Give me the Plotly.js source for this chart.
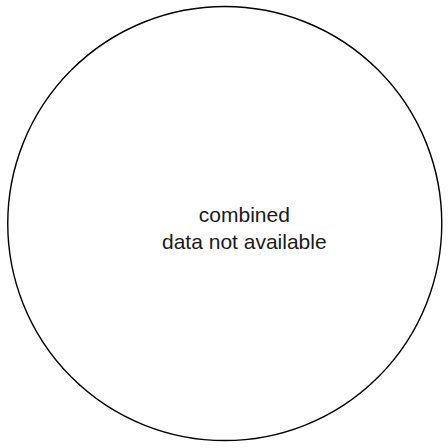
<!DOCTYPE html>
<html>
<head>
<meta charset="utf-8">
<script src="https://cdn.plot.ly/plotly-3.0.1.min.js"></script>
<style>html,body{margin:0;padding:0;background:#fff;}#chart{width:448px;height:448px;}</style>
</head>
<body>
<div id="chart"></div>
<script>
// Placeholder: no data available for the "combined" group
const groupName = 'combined';
const messageText = 'data not available';
const placeholderLabels = ['combined'];
const placeholderValues = [1];

const trace = {
  type: 'pie',
  labels: placeholderLabels,
  values: placeholderValues,
  sort: false,
  textinfo: 'none',
  hoverinfo: 'skip',
  showlegend: false,
  marker: {colors: ['#ffffff'], line: {color: '#000000', width: 1.4}},
  domain: {x: [0.0173, 0.9861], y: [0.0167, 0.9855]}
};

const layout = {
  width: 448, height: 448,
  margin: {l: 0, r: 0, t: 0, b: 0},
  paper_bgcolor: '#ffffff',
  showlegend: false,
  font: {family: '"Liberation Sans", Arial, sans-serif', color: '#1a1a1a'},
  annotations: [{
    text: groupName + '<br>' + messageText,
    xref: 'paper', yref: 'paper',
    x: 0.5458, y: 0.491,
    xanchor: 'center', yanchor: 'middle',
    showarrow: false,
    font: {size: 21, family: '"Liberation Sans", Arial, sans-serif', color: '#1a1a1a'}
  }]
};

Plotly.newPlot('chart', [trace], layout, {displayModeBar: false, staticPlot: true});
</script>
</body>
</html>
